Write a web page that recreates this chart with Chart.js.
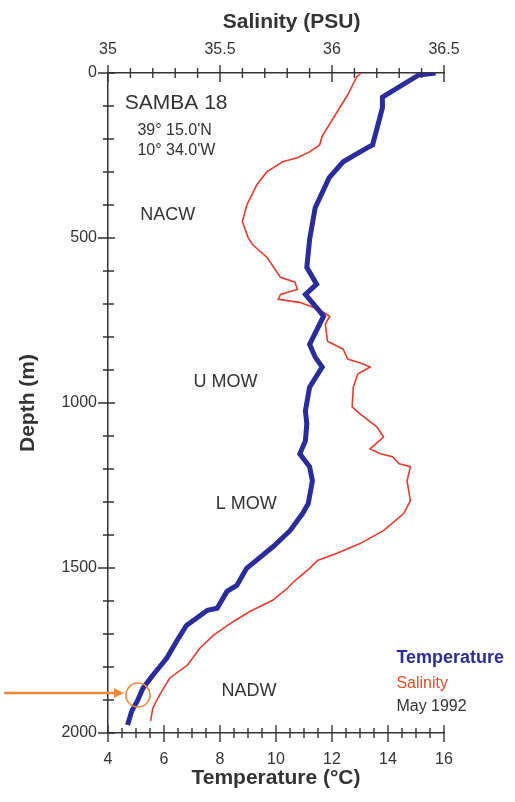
<!DOCTYPE html>
<html>
<head>
<meta charset="utf-8">
<title>SAMBA 18 profile</title>
<script src="https://cdn.jsdelivr.net/npm/chart.js@4/dist/chart.umd.min.js"></script>
<style>
  html, body { margin: 0; padding: 0; background: #fff; }
  canvas { display: block; }
</style>
</head>
<body>
<canvas id="profile" width="515" height="802"></canvas>
<script>
// Temperature profile (°C vs depth in m)
const tempDepth = [0, 6, 73, 106, 218, 227, 269, 317, 408, 505, 589, 640, 671, 716, 737, 822, 861, 891, 952, 1024,
  1063, 1115, 1154, 1193, 1236, 1305, 1335, 1387, 1435, 1477, 1501, 1538, 1553, 1571, 1622, 1628, 1674, 1722,
  1773, 1825, 1864, 1903, 1933, 1976];
const tempValues = [15.7, 15.1, 13.8, 13.8, 13.45, 13.25, 12.4, 11.9, 11.4, 11.2, 11.1, 11.45, 11.05, 11.5, 11.7,
  11.2, 11.4, 11.65, 11.2, 11.05, 11.1, 11.05, 10.85, 11.2, 11.3, 11.15, 10.95, 10.5, 9.9, 9.3, 8.95, 8.7, 8.6,
  8.25, 7.9, 7.55, 6.8, 6.45, 6.1, 5.6, 5.25, 5.05, 4.85, 4.7];

// Salinity profile (PSU vs depth in m)
const salDepth = [0, 12, 66, 193, 218, 239, 257, 269, 299, 338, 399, 450, 498, 520, 559, 619, 634, 656, 671, 686,
  695, 716, 737, 761, 813, 837, 867, 882, 891, 912, 952, 1012, 1033, 1072, 1103, 1139, 1154, 1163, 1184, 1193,
  1236, 1296, 1335, 1387, 1426, 1456, 1477, 1501, 1538, 1562, 1598, 1631, 1662, 1704, 1743, 1794, 1834, 1885,
  1924, 1964];
const salValues = [36.13, 36.11, 36.07, 35.955, 35.945, 35.9, 35.845, 35.78, 35.71, 35.665, 35.62, 35.6, 35.625,
  35.645, 35.71, 35.77, 35.835, 35.845, 35.77, 35.76, 35.855, 35.94, 35.99, 35.97, 35.98, 36.05, 36.07, 36.14,
  36.17, 36.115, 36.095, 36.09, 36.125, 36.2, 36.23, 36.17, 36.215, 36.27, 36.3, 36.35, 36.335, 36.35, 36.32,
  36.23, 36.125, 36.02, 35.935, 35.9, 35.835, 35.8, 35.735, 35.635, 35.56, 35.47, 35.41, 35.355, 35.275, 35.23,
  35.2, 35.19];

// Labelled ticks on each axis
const tempTicks = [4, 6, 8, 10, 12, 14, 16];
const salTicks = [35, 35.5, 36, 36.5];
const depthTicks = [0, 500, 1000, 1500, 2000];

const blue = '#2b2c9c';
const red = '#ea3a2a';
const orange = '#f0883a';
const ink = '#333';

// Water masses, station info and key, anchored in (temperature, depth)
const notes = [
  { text: 'SAMBA 18', t: 4.6, d: 91, font: '21px "Liberation Sans"', color: ink },
  { text: '39° 15.0\'N', t: 5.05, d: 176, font: '16px "Liberation Sans"', color: ink },
  { text: '10° 34.0\'W', t: 5.05, d: 236, font: '16px "Liberation Sans"', color: ink },
  { text: 'NACW', t: 5.15, d: 429, font: '18px "Liberation Sans"', color: ink },
  { text: 'U MOW', t: 7.05, d: 937, font: '18px "Liberation Sans"', color: ink },
  { text: 'L MOW', t: 7.85, d: 1305, font: '18px "Liberation Sans"', color: ink },
  { text: 'NADW', t: 8.05, d: 1873, font: '18px "Liberation Sans"', color: ink },
  { text: 'Temperature', t: 14.3, d: 1773, font: 'bold 18px "Liberation Sans"', color: blue },
  { text: 'Salinity', t: 14.3, d: 1849, font: '16px "Liberation Sans"', color: '#ea4a2c' },
  { text: 'May 1992', t: 14.3, d: 1921, font: '16px "Liberation Sans"', color: ink }
];

// Marked sample: circle and arrow
const markTemp = 5.07;
const markDepth = 1885;

const isLabelled = (list, v) => list.some(l => Math.abs(l - v) < 1e-6);

const tempPoints = tempDepth.map((d, i) => ({ x: tempValues[i], y: d }));
const salPoints = salDepth.map((d, i) => ({ x: salValues[i], y: d }));

// draws "+" style ticks across the axis lines, longer for labelled values
const crossTicks = {
  id: 'crossTicks',
  afterDraw(chart) {
    const ctx = chart.ctx;
    const area = chart.chartArea;
    ctx.save();
    ctx.strokeStyle = ink;
    ctx.lineWidth = 1.4;
    ctx.beginPath();
    chart.scales.x.ticks.forEach(t => {
      const p = chart.scales.x.getPixelForValue(t.value);
      const major = t.label !== '';
      ctx.moveTo(p, area.bottom - (major ? 8 : 5));
      ctx.lineTo(p, area.bottom + (major ? 9 : 5));
    });
    chart.scales.x2.ticks.forEach(t => {
      const p = chart.scales.x2.getPixelForValue(t.value);
      const major = t.label !== '';
      ctx.moveTo(p, area.top - (major ? 8 : 5));
      ctx.lineTo(p, area.top + (major ? 9 : 5));
    });
    chart.scales.y.ticks.forEach(t => {
      const p = chart.scales.y.getPixelForValue(t.value);
      const major = t.label !== '';
      ctx.moveTo(area.left - (major ? 10 : 5), p);
      ctx.lineTo(area.left + (major ? 7 : 6), p);
    });
    ctx.stroke();
    ctx.restore();
  }
};

const annotations = {
  id: 'annotations',
  afterDraw(chart) {
    const ctx = chart.ctx;
    const xs = chart.scales.x;
    const ys = chart.scales.y;
    ctx.save();

    // salinity axis title sits a little right of centre
    ctx.font = 'bold 21px "Liberation Sans"';
    ctx.fillStyle = ink;
    ctx.textAlign = 'center';
    ctx.textBaseline = 'middle';
    ctx.fillText('Salinity (PSU)', chart.scales.x2.getPixelForValue(35.82), 22);

    ctx.textAlign = 'left';
    notes.forEach(n => {
      ctx.font = n.font;
      ctx.fillStyle = n.color;
      ctx.fillText(n.text, xs.getPixelForValue(n.t), ys.getPixelForValue(n.d));
    });

    // circled sample with arrow coming in from the left margin
    const cx = xs.getPixelForValue(markTemp);
    const cy = ys.getPixelForValue(markDepth);
    ctx.strokeStyle = orange;
    ctx.lineWidth = 1.6;
    ctx.beginPath();
    ctx.arc(cx, cy, 12, 0, Math.PI * 2);
    ctx.stroke();

    const ay = cy - 2;
    const tip = cx - 14;
    ctx.lineWidth = 2.6;
    ctx.beginPath();
    ctx.moveTo(4, ay);
    ctx.lineTo(tip - 8, ay);
    ctx.stroke();
    ctx.fillStyle = orange;
    ctx.beginPath();
    ctx.moveTo(tip, ay);
    ctx.lineTo(tip - 10, ay - 5);
    ctx.lineTo(tip - 10, ay + 5);
    ctx.closePath();
    ctx.fill();
    ctx.restore();
  }
};

const tickFont = { family: '"Liberation Sans"', size: 16 };
const titleFont = { family: '"Liberation Sans"', size: 21, weight: 'bold' };

new Chart(document.getElementById('profile').getContext('2d'), {
  type: 'scatter',
  data: {
    datasets: [
      {
        label: 'Temperature',
        data: tempPoints,
        xAxisID: 'x',
        showLine: true,
        borderColor: blue,
        borderWidth: 5,
        pointRadius: 0,
        tension: 0
      },
      {
        label: 'Salinity',
        data: salPoints,
        xAxisID: 'x2',
        showLine: true,
        borderColor: red,
        borderWidth: 1.6,
        pointRadius: 0,
        tension: 0
      }
    ]
  },
  options: {
    responsive: false,
    animation: false,
    layout: { padding: { left: 0, right: 71, top: 0, bottom: 0 } },
    plugins: {
      legend: { display: false },
      tooltip: { enabled: false }
    },
    scales: {
      x: {
        type: 'linear',
        position: 'bottom',
        min: 4,
        max: 16,
        grid: { display: false, drawTicks: false },
        border: { display: true, color: ink, width: 1.5 },
        ticks: {
          stepSize: 0.5,
          autoSkip: false,
          maxRotation: 0,
          padding: 17,
          color: ink,
          font: tickFont,
          callback: v => isLabelled(tempTicks, v) ? String(v) : ''
        },
        title: {
          display: true,
          text: 'Temperature (°C)',
          color: ink,
          font: titleFont,
          padding: { top: 0, bottom: 11 }
        },
        afterFit: s => { s.height = 69; }
      },
      x2: {
        type: 'linear',
        position: 'top',
        min: 35,
        max: 36.5,
        grid: { display: false, drawTicks: false },
        border: { display: true, color: ink, width: 1.5 },
        ticks: {
          stepSize: 0.1,
          autoSkip: false,
          maxRotation: 0,
          padding: 14,
          color: ink,
          font: tickFont,
          callback: v => isLabelled(salTicks, v) ? String(Math.round(v * 10) / 10) : ''
        },
        afterFit: s => { s.height = 73; }
      },
      y: {
        type: 'linear',
        reverse: true,
        min: 0,
        max: 2000,
        grid: { display: false, drawTicks: false },
        border: { display: true, color: ink, width: 1.5 },
        ticks: {
          stepSize: 100,
          autoSkip: false,
          padding: 11,
          color: ink,
          font: tickFont,
          callback: v => isLabelled(depthTicks, v) ? String(v) : ''
        },
        title: {
          display: true,
          text: 'Depth (m)',
          color: ink,
          font: titleFont,
          padding: { top: 16, bottom: 0 }
        },
        afterFit: s => { s.width = 108; }
      }
    }
  },
  plugins: [crossTicks, annotations]
});
</script>
</body>
</html>
